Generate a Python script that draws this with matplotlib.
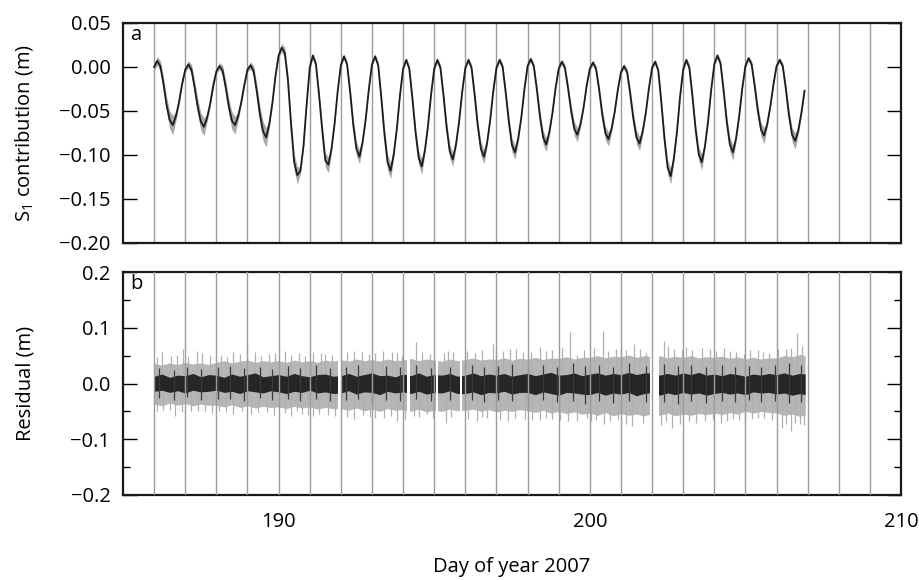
import numpy as np
import matplotlib
matplotlib.use("Agg")
import matplotlib.pyplot as plt
from matplotlib.ticker import MultipleLocator, FuncFormatter

plt.rcParams['font.family'] = ['Open Sans', 'DejaVu Sans']
plt.rcParams['mathtext.fontset'] = 'custom'
plt.rcParams['mathtext.rm'] = 'Open Sans'

# ---------------- panel a: S1 contribution ----------------
# sampled every 0.1 day starting at day 186.0, one row per day (m)
s1_start_day = 186.0
s1_step = 0.1
s1_values = [
    [0.000, 0.007, 0.001, -0.019, -0.043, -0.060, -0.066, -0.056, -0.040, -0.019],  # 186
    [-0.003, 0.003, -0.003, -0.023, -0.045, -0.062, -0.068, -0.058, -0.042, -0.021],  # 187
    [-0.005, 0.001, -0.004, -0.023, -0.045, -0.061, -0.066, -0.056, -0.040, -0.020],  # 188
    [-0.003, 0.002, -0.005, -0.028, -0.054, -0.073, -0.080, -0.065, -0.041, -0.010],  # 189
    [0.013, 0.022, 0.016, -0.015, -0.065, -0.108, -0.123, -0.118, -0.090, -0.043],  # 190
    [-0.001, 0.013, 0.003, -0.032, -0.071, -0.106, -0.111, -0.093, -0.064, -0.027],  # 191
    [0.002, 0.012, 0.003, -0.029, -0.066, -0.093, -0.102, -0.085, -0.059, -0.025],  # 192
    [0.003, 0.012, 0.002, -0.035, -0.076, -0.108, -0.118, -0.099, -0.070, -0.032],  # 193
    [-0.002, 0.008, -0.002, -0.036, -0.074, -0.103, -0.113, -0.095, -0.067, -0.031],  # 194
    [-0.002, 0.008, -0.001, -0.033, -0.069, -0.096, -0.105, -0.088, -0.062, -0.028],  # 195
    [-0.001, 0.008, -0.001, -0.032, -0.067, -0.093, -0.102, -0.086, -0.060, -0.027],  # 196
    [-0.001, 0.008, 0.000, -0.030, -0.063, -0.089, -0.097, -0.081, -0.057, -0.025],  # 197
    [0.001, 0.009, 0.001, -0.026, -0.057, -0.080, -0.088, -0.074, -0.052, -0.024],  # 198
    [-0.002, 0.006, -0.001, -0.024, -0.050, -0.070, -0.077, -0.065, -0.046, -0.021],  # 199
    [-0.002, 0.005, -0.002, -0.026, -0.054, -0.075, -0.082, -0.070, -0.051, -0.026],  # 200
    [-0.006, 0.001, -0.006, -0.031, -0.059, -0.080, -0.087, -0.073, -0.052, -0.024],  # 201
    [-0.001, 0.006, -0.004, -0.041, -0.082, -0.114, -0.124, -0.104, -0.074, -0.034],  # 202
    [-0.003, 0.008, -0.001, -0.034, -0.071, -0.099, -0.108, -0.090, -0.062, -0.026],  # 203
    [0.003, 0.013, 0.004, -0.027, -0.062, -0.088, -0.097, -0.081, -0.056, -0.024],  # 204
    [0.001, 0.010, 0.003, -0.022, -0.050, -0.071, -0.078, -0.065, -0.045, -0.020],  # 205
    [0.001, 0.008, 0.001, -0.025, -0.055, -0.077, -0.084, -0.072, -0.052, -0.027],  # 206
]
# 1-sigma uncertainty of the S1 estimate (mm), same sampling
s1_err_mm = [
    [4, 5, 6, 8, 9, 10, 11, 5, 3, 3],
    [3, 4, 6, 8, 9, 10, 10, 5, 3, 3],
    [3, 4, 6, 8, 9, 10, 10, 5, 3, 3],
    [3, 4, 6, 8, 10, 11, 11, 5, 3, 3],
    [3, 5, 6, 7, 8, 9, 10, 4, 2, 2],
    [2, 3, 4, 6, 7, 8, 9, 4, 2, 2],
    [2, 3, 4, 6, 7, 8, 8, 4, 2, 2],
    [2, 3, 4, 6, 8, 9, 9, 4, 2, 2],
    [2, 3, 4, 6, 7, 8, 9, 4, 2, 2],
    [2, 3, 4, 6, 7, 8, 8, 4, 2, 2],
    [2, 3, 4, 6, 7, 8, 8, 4, 2, 2],
    [2, 3, 4, 6, 7, 8, 8, 4, 2, 2],
    [2, 3, 4, 6, 7, 8, 8, 4, 2, 2],
    [2, 3, 4, 6, 7, 8, 8, 4, 2, 2],
    [2, 3, 4, 6, 7, 8, 8, 4, 2, 2],
    [2, 3, 4, 6, 7, 8, 8, 4, 2, 2],
    [2, 3, 4, 6, 7, 8, 9, 4, 2, 2],
    [2, 3, 4, 6, 7, 8, 9, 4, 2, 2],
    [2, 3, 4, 6, 7, 8, 9, 4, 2, 2],
    [2, 3, 4, 6, 7, 8, 9, 4, 2, 2],
    [2, 3, 4, 6, 7, 8, 9, 5, 3, 3],
]

# ---------------- panel b: residual ----------------
# spread of the residual (m) every 0.25 day from day 186.0, last value at end of record
resid_end_day = 206.92
resid_hi = [
    0.036, 0.033, 0.037, 0.034, 0.038, 0.035, 0.037, 0.034,
    0.038, 0.041, 0.037, 0.040, 0.042, 0.038, 0.041, 0.039,
    0.041, 0.038, 0.042, 0.039, 0.041, 0.038, 0.042, 0.040,
    0.043, 0.040, 0.044, 0.041, 0.043, 0.040, 0.044, 0.041,
    0.042, 0.045, 0.041, 0.044, 0.042, 0.040, 0.044, 0.041,
    0.043, 0.046, 0.042, 0.044, 0.043, 0.046, 0.042, 0.045,
    0.044, 0.047, 0.043, 0.046, 0.045, 0.048, 0.044, 0.047,
    0.047, 0.050, 0.046, 0.049, 0.048, 0.051, 0.047, 0.050,
    0.048, 0.050, 0.046, 0.049, 0.047, 0.050, 0.046, 0.048,
    0.047, 0.049, 0.045, 0.048, 0.044, 0.047, 0.044, 0.046,
    0.046, 0.050, 0.048, 0.052, 0.050,
]
resid_lo = [
    -0.037, -0.040, -0.035, -0.039, -0.036, -0.040, -0.037, -0.039,
    -0.039, -0.042, -0.038, -0.043, -0.040, -0.044, -0.041, -0.043,
    -0.042, -0.045, -0.041, -0.044, -0.042, -0.046, -0.043, -0.045,
    -0.045, -0.048, -0.044, -0.049, -0.046, -0.050, -0.045, -0.048,
    -0.047, -0.050, -0.046, -0.051, -0.048, -0.050, -0.046, -0.049,
    -0.048, -0.046, -0.050, -0.047, -0.051, -0.048, -0.050, -0.047,
    -0.049, -0.052, -0.048, -0.053, -0.050, -0.054, -0.051, -0.055,
    -0.053, -0.057, -0.052, -0.058, -0.054, -0.057, -0.055, -0.058,
    -0.054, -0.057, -0.053, -0.058, -0.055, -0.057, -0.054, -0.056,
    -0.053, -0.056, -0.052, -0.055, -0.050, -0.053, -0.050, -0.052,
    -0.053, -0.057, -0.055, -0.059, -0.056,
]
# residual values themselves (dark core), same 0.25-day sampling
core_hi = [
    0.013, 0.017, 0.011, 0.015, 0.014, 0.018, 0.012, 0.016,
    0.015, 0.011, 0.017, 0.013, 0.016, 0.019, 0.012, 0.014,
    0.016, 0.013, 0.018, 0.014, 0.012, 0.016, 0.017, 0.013,
    0.014, 0.018, 0.013, 0.016, 0.019, 0.014, 0.015, 0.012,
    0.017, 0.014, 0.019, 0.013, 0.016, 0.015, 0.018, 0.013,
    0.015, 0.019, 0.014, 0.017, 0.015, 0.018, 0.013, 0.016,
    0.018, 0.014, 0.017, 0.020, 0.015, 0.016, 0.019, 0.014,
    0.017, 0.019, 0.015, 0.018, 0.016, 0.020, 0.016, 0.019,
    0.019, 0.015, 0.018, 0.015, 0.019, 0.016, 0.020, 0.015,
    0.017, 0.014, 0.018, 0.016, 0.013, 0.017, 0.015, 0.018,
    0.016, 0.019, 0.015, 0.018, 0.017,
]
core_lo = [
    -0.014, -0.012, -0.016, -0.013, -0.017, -0.012, -0.015, -0.014,
    -0.012, -0.016, -0.014, -0.018, -0.013, -0.015, -0.017, -0.013,
    -0.015, -0.018, -0.014, -0.016, -0.012, -0.017, -0.015, -0.018,
    -0.017, -0.013, -0.019, -0.015, -0.016, -0.020, -0.014, -0.017,
    -0.015, -0.018, -0.014, -0.019, -0.016, -0.017, -0.013, -0.018,
    -0.018, -0.015, -0.020, -0.016, -0.017, -0.014, -0.019, -0.016,
    -0.016, -0.020, -0.015, -0.018, -0.021, -0.016, -0.017, -0.019,
    -0.020, -0.016, -0.021, -0.017, -0.019, -0.016, -0.022, -0.018,
    -0.016, -0.021, -0.017, -0.020, -0.016, -0.019, -0.017, -0.021,
    -0.018, -0.016, -0.019, -0.017, -0.020, -0.015, -0.017, -0.016,
    -0.019, -0.017, -0.021, -0.018, -0.020,
]
# individual large excursions of the error bars (day, value)
spike_up_day = [186.10, 186.24, 186.55, 186.75, 186.94, 187.10, 187.37, 187.55, 187.80,
                188.15, 188.35, 188.55, 188.75, 188.98, 189.24, 189.45, 189.70, 189.90,
                190.20, 190.40, 190.65, 190.85, 191.12, 191.35, 191.50, 191.70, 192.20,
                192.41, 192.68, 192.90, 193.10, 193.35, 193.64, 193.80, 193.95, 194.42,
                194.60, 194.85, 195.30, 195.45, 195.62, 196.05, 196.30, 196.55, 196.89,
                197.00, 197.20, 197.45, 197.64, 197.85, 198.10, 198.39, 198.60, 198.80,
                199.10, 199.37, 199.59, 199.80, 200.15, 200.41, 200.60, 200.85, 201.00,
                201.15, 201.41, 201.60, 201.82, 202.37, 202.50, 202.70, 202.95, 203.10,
                203.30, 203.60, 203.85, 204.07, 204.30, 204.50, 204.70, 204.95, 205.15,
                205.40, 205.55, 205.75, 206.05, 206.30, 206.45, 206.66, 206.82]
spike_up_val = [0.047, 0.056, 0.050, 0.052, 0.062, 0.049, 0.059, 0.054, 0.052,
                0.051, 0.048, 0.056, 0.053, 0.066, 0.056, 0.050, 0.053, 0.055,
                0.059, 0.052, 0.054, 0.050, 0.056, 0.055, 0.053, 0.051, 0.056,
                0.059, 0.056, 0.053, 0.055, 0.058, 0.056, 0.054, 0.052, 0.074,
                0.057, 0.053, 0.054, 0.058, 0.056, 0.059, 0.055, 0.060, 0.070,
                0.056, 0.058, 0.061, 0.062, 0.057, 0.057, 0.066, 0.058, 0.060,
                0.063, 0.092, 0.052, 0.060, 0.063, 0.095, 0.058, 0.062, 0.065,
                0.060, 0.071, 0.061, 0.055, 0.077, 0.068, 0.062, 0.060, 0.065,
                0.060, 0.064, 0.061, 0.058, 0.063, 0.058, 0.057, 0.053, 0.060,
                0.060, 0.056, 0.055, 0.061, 0.062, 0.064, 0.090, 0.068]
spike_dn_day = [186.10, 186.30, 186.50, 186.67, 186.90, 187.20, 187.40, 187.64, 187.85,
                188.10, 188.30, 188.55, 188.81, 189.10, 189.35, 189.62, 189.85, 190.20,
                190.40, 190.58, 190.75, 190.95, 191.10, 191.30, 191.60, 191.82, 192.20,
                192.41, 192.70, 192.95, 193.10, 193.40, 193.60, 193.80, 194.05, 194.35,
                194.50, 194.76, 194.95, 195.38, 195.55, 196.10, 196.37, 196.55, 196.70,
                197.10, 197.36, 197.60, 197.93, 198.15, 198.40, 198.60, 198.78, 199.05,
                199.30, 199.60, 199.91, 200.05, 200.20, 200.45, 200.66, 200.90, 201.15,
                201.36, 201.70, 202.30, 202.45, 202.64, 202.90, 203.18, 203.40, 203.70,
                203.95, 204.20, 204.41, 204.60, 204.80, 205.00, 205.20, 205.40, 205.59,
                205.85, 206.18, 206.30, 206.48, 206.60, 206.75, 206.88]
spike_dn_val = [-0.050, -0.048, -0.047, -0.058, -0.052, -0.050, -0.049, -0.049, -0.053,
                -0.050, -0.052, -0.055, -0.049, -0.054, -0.051, -0.052, -0.056, -0.053,
                -0.058, -0.049, -0.054, -0.056, -0.059, -0.055, -0.056, -0.058, -0.060,
                -0.064, -0.057, -0.060, -0.061, -0.062, -0.058, -0.067, -0.063, -0.059,
                -0.060, -0.055, -0.062, -0.070, -0.060, -0.064, -0.067, -0.060, -0.062,
                -0.065, -0.067, -0.061, -0.064, -0.066, -0.066, -0.062, -0.064, -0.065,
                -0.068, -0.067, -0.061, -0.068, -0.066, -0.072, -0.067, -0.066, -0.073,
                -0.076, -0.070, -0.074, -0.068, -0.079, -0.072, -0.067, -0.070, -0.068,
                -0.066, -0.071, -0.067, -0.064, -0.066, -0.068, -0.064, -0.062, -0.061,
                -0.066, -0.079, -0.073, -0.085, -0.070, -0.072, -0.075]
# larger individual residual values (day, upper, lower)
dark_day = [186.15, 186.65, 187.05, 187.50, 188.05, 188.45, 188.90, 189.40, 189.80,
            190.30, 190.70, 191.20, 191.65, 192.15, 192.55, 193.00, 193.45, 193.90,
            194.40, 194.90, 195.50, 196.20, 196.60, 197.05, 197.50, 198.00, 198.50,
            198.95, 199.45, 199.85, 200.30, 200.75, 201.25, 201.80, 202.40, 202.85,
            203.25, 203.75, 204.25, 204.65, 205.10, 205.50, 205.95, 206.40, 206.80]
dark_hi = [0.028, 0.025, 0.030, 0.026, 0.029, 0.032, 0.027, 0.030, 0.026,
           0.031, 0.028, 0.033, 0.027, 0.030, 0.034, 0.028, 0.031, 0.029,
           0.033, 0.028, 0.030, 0.034, 0.029, 0.032, 0.035, 0.030, 0.033,
           0.029, 0.036, 0.031, 0.034, 0.030, 0.036, 0.032, 0.035, 0.031,
           0.034, 0.030, 0.033, 0.029, 0.032, 0.030, 0.034, 0.036, 0.033]
dark_lo = [-0.026, -0.029, -0.025, -0.030, -0.027, -0.028, -0.031, -0.026, -0.030,
           -0.028, -0.032, -0.027, -0.031, -0.029, -0.027, -0.033, -0.029, -0.031,
           -0.028, -0.032, -0.030, -0.029, -0.034, -0.030, -0.031, -0.035, -0.030,
           -0.033, -0.031, -0.036, -0.032, -0.035, -0.031, -0.034, -0.033, -0.036,
           -0.032, -0.035, -0.031, -0.034, -0.030, -0.033, -0.032, -0.035, -0.034]
# periods without data (start day, end day)
resid_gaps = [(191.92, 192.00), (194.12, 194.22), (195.06, 195.12), (195.82, 195.90),
              (201.95, 202.21)]

day_lines = list(range(186, 210))

# ---------------- figure ----------------
fig = plt.figure(figsize=(9.2, 5.8), dpi=100)
ax1 = fig.add_axes([123 / 920, 1 - 243 / 580, 778 / 920, 220 / 580])
ax2 = fig.add_axes([123 / 920, 1 - 495 / 580, 778 / 920, 223 / 580])

line_grey = '#9c9c9c'
fs = 14.5


def fmt(decimals):
    return FuncFormatter(lambda y, pos: f'{y:.{decimals}f}'.replace('-', '\u2212'))


# panel a
v = np.array(s1_values).ravel()
e = np.array(s1_err_mm).ravel() / 1000.0
t = s1_start_day + s1_step * np.arange(v.size)
for d in day_lines:
    ax1.axvline(d, color=line_grey, lw=1.0, zorder=0.5)
ax1.fill_between(t, v - e, v + e, color='#a8a8a8', lw=0, zorder=1)
ax1.plot(t, v, color='#1c1c1c', lw=1.3, zorder=2)
ax1.set_ylim(-0.20, 0.05)
ax1.yaxis.set_major_locator(MultipleLocator(0.05))
ax1.yaxis.set_major_formatter(fmt(2))
ax1.set_ylabel(r'S$_{\mathregular{1}}$ contribution (m)', fontsize=fs)

# panel b
hi = np.array(resid_hi)
lo = np.array(resid_lo)
tb = np.append(186.0 + 0.25 * np.arange(hi.size - 1), resid_end_day)
ax2.fill_between(tb, lo, hi, color='#b6b6b6', lw=0, zorder=1)
ax2.vlines(spike_up_day, 0, spike_up_val, color='#b0b0b0', lw=0.9, zorder=1.2)
ax2.vlines(spike_dn_day, spike_dn_val, 0, color='#b0b0b0', lw=0.9, zorder=1.2)
ax2.fill_between(tb, np.array(core_lo), np.array(core_hi), color='#262626',
                 lw=0, zorder=1.5)
ax2.vlines(dark_day, dark_lo, dark_hi, color='#3a3a3a', lw=0.9, zorder=1.6)
for g0, g1 in resid_gaps:
    ax2.axvspan(g0, g1, color='white', lw=0, zorder=2)
for d in day_lines:
    ax2.axvline(d, color=line_grey, lw=1.0, zorder=3)
ax2.set_ylim(-0.2, 0.2)
ax2.yaxis.set_major_locator(MultipleLocator(0.1))
ax2.yaxis.set_minor_locator(MultipleLocator(0.05))
ax2.yaxis.set_major_formatter(fmt(1))
ax2.set_ylabel('Residual (m)', fontsize=fs)

for ax, lab in ((ax1, 'a'), (ax2, 'b')):
    ax.set_xlim(185, 210)
    ax.xaxis.set_major_locator(MultipleLocator(10))
    for s in ax.spines.values():
        s.set_linewidth(1.6)
        s.set_color('#1a1a1a')
    ax.tick_params(axis='y', which='major', direction='in', length=10, width=1.0,
                   left=True, right=True, labelsize=fs, pad=9)
    ax.tick_params(axis='y', which='minor', direction='in', length=5, width=1.0,
                   left=True, right=True)
    ax.tick_params(axis='x', direction='in', length=0, labelsize=fs, pad=12)
    ax.text(0.009, 0.99, lab, transform=ax.transAxes, ha='left', va='top',
            fontsize=fs, zorder=5)

ax1.tick_params(axis='x', labelbottom=False)
ax1.yaxis.set_label_coords(-0.113, 0.5)
ax2.yaxis.set_label_coords(-0.113, 0.5)

fig.text((123 + 901) / 2 / 920, 1 - 567 / 580, 'Day of year 2007', ha='center',
         va='center', fontsize=fs)

fig.savefig('out.png', dpi=100)
